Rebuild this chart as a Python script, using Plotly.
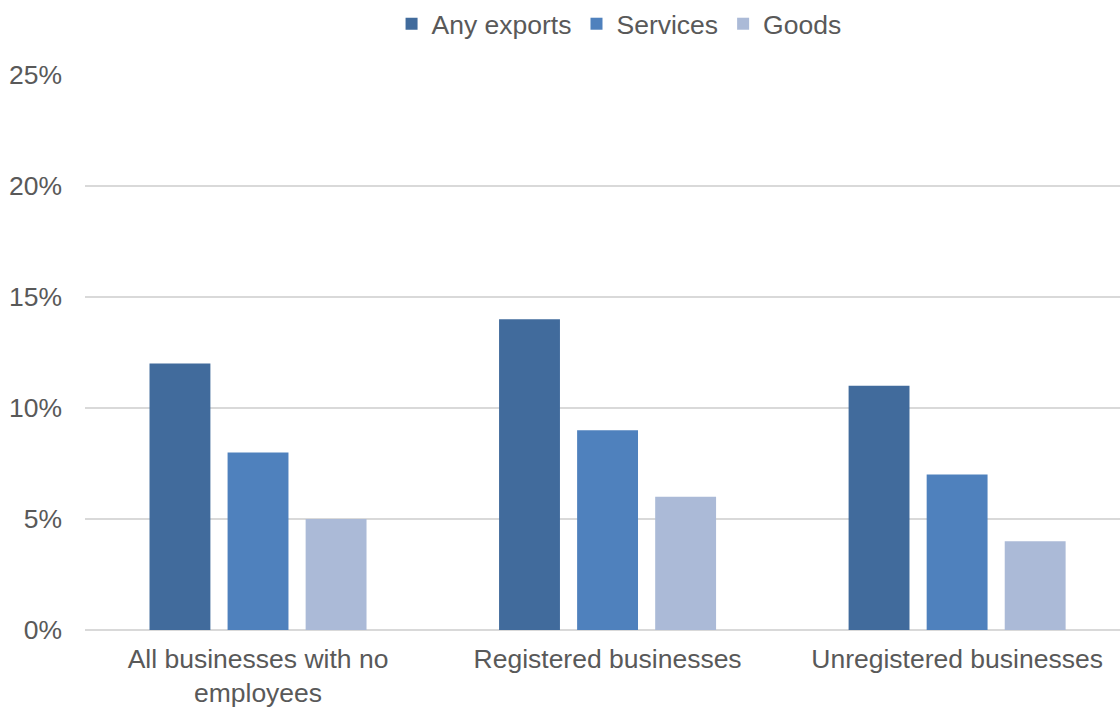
import plotly.graph_objects as go

categories = ["All businesses with no<br>employees", "Registered businesses", "Unregistered businesses"]
series_names = ["Any exports", "Services", "Goods"]
any_exports = [0.12, 0.14, 0.11]
services = [0.08, 0.09, 0.07]
goods = [0.05, 0.06, 0.04]
colors = ["#416B9C", "#4F81BD", "#ABBAD7"]
y_ticks = [0, 0.05, 0.10, 0.15, 0.20, 0.25]

fig = go.Figure()
for name, vals, col in zip(series_names, [any_exports, services, goods], colors):
    fig.add_trace(go.Bar(x=categories, y=vals, name=name, marker=dict(color=col, line=dict(width=0))))

font = "Liberation Sans, Arial, sans-serif"
fig.update_layout(
    width=1120, height=707,
    margin=dict(l=85, r=0, t=75, b=77),
    paper_bgcolor="white", plot_bgcolor="white",
    barmode="group", bargap=0.33, bargroupgap=0.22,
    font=dict(family=font, size=26.5, color="#595959"),
    legend=dict(orientation="h", x=0.516, xanchor="center", y=1.0, yanchor="top",
                yref="container", font=dict(size=26.5, color="#595959"),
                itemwidth=30, tracegroupgap=0),
    showlegend=True,
)
fig.update_yaxes(range=[0, 0.25], tickvals=y_ticks, tickformat=".0%",
                 showgrid=True, gridcolor="#D9D9D9", gridwidth=1.5,
                 zeroline=True, zerolinecolor="#D9D9D9", zerolinewidth=1.5,
                 showline=False, ticklabelstandoff=22, fixedrange=True)
fig.update_xaxes(showline=False, ticks="", ticklabelstandoff=10, range=[-0.495, 2.466])

fig.write_html("out.html")
